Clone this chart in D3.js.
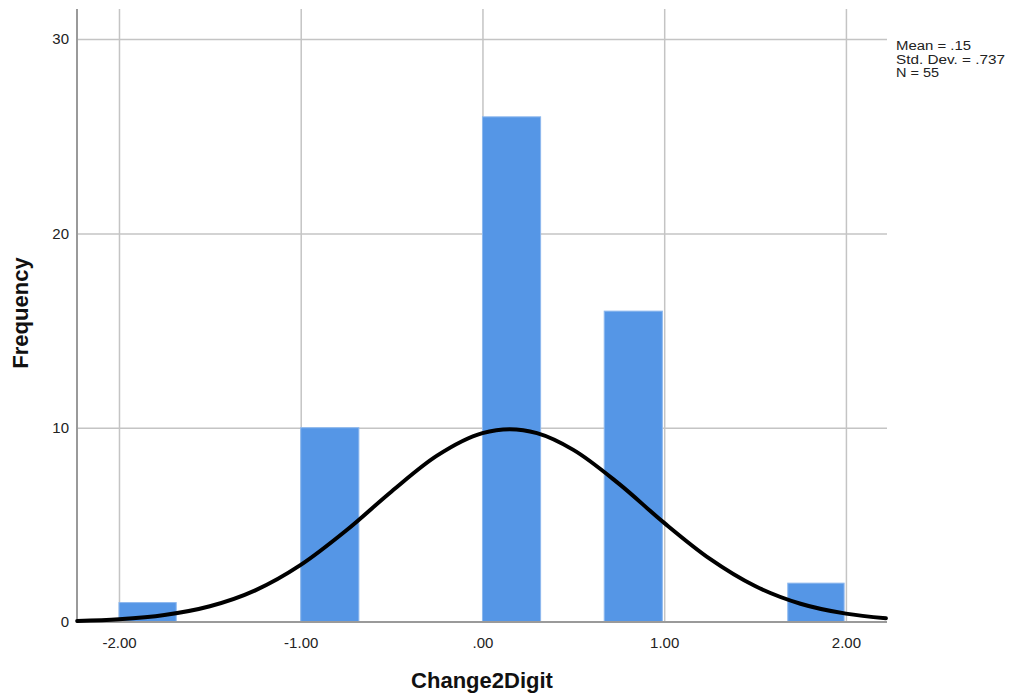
<!DOCTYPE html>
<html><head><meta charset="utf-8">
<script src="https://cdn.jsdelivr.net/npm/d3@7"></script>
<style>
html,body{margin:0;padding:0;background:#fff;}
svg{display:block;font-family:"Liberation Sans",Arial,sans-serif;}
</style></head>
<body><svg id="c" width="1011" height="697"></svg>
<script>
// Histogram bins
const binStart = [-2.0, -1.0, 0.0, 0.67, 1.68];
const binEnd   = [-1.685, -0.68, 0.32, 0.99, 1.99];
const counts   = [1, 10, 26, 16, 2];
// Normal curve points
const curveX = [-2.23, -2.0, -1.75, -1.5, -1.25, -1.0, -0.75, -0.5, -0.25, 0.0, 0.15, 0.3, 0.5, 0.75, 1.0, 1.25, 1.5, 1.75, 2.0, 2.22];
const curveY = [0.05, 0.14, 0.36, 0.81, 1.63, 2.94, 4.71, 6.72, 8.56, 9.72, 9.92, 9.72, 8.86, 7.12, 5.10, 3.26, 1.85, 0.94, 0.43, 0.19];
const xTicks = [-2, -1, 0, 1, 2];
const xTickLabels = ["-2.00", "-1.00", ".00", "1.00", "2.00"];
const yTicks = [0, 10, 20, 30];
const statsLines = ["Mean = .15", "Std. Dev. = .737", "N = 55"];
const statsWidths = [75, 109, 43];
const xTitle = "Change2Digit";
const yTitle = "Frequency";

const L = 77, R = 887, T = 9, B = 622;
const svg = d3.select("#c");
const x = d3.scaleLinear().domain([-2.231, 2.226]).range([L, R]);
const y = d3.scaleLinear().domain([0, 31.55]).range([B, T]);

// grid
const gx = svg.append("g").attr("transform", `translate(0,${B})`)
  .call(d3.axisBottom(x).tickValues(xTicks).tickSize(-(B - T)).tickFormat(""));
gx.select(".domain").remove();
gx.selectAll("line").attr("stroke", "#c4c4c4").attr("stroke-width", 1.5);
const gy = svg.append("g").attr("transform", `translate(${L},0)`)
  .call(d3.axisLeft(y).tickValues(yTicks.filter(d => d > 0)).tickSize(-(R - L)).tickFormat(""));
gy.select(".domain").remove();
gy.selectAll("line").attr("stroke", "#c4c4c4").attr("stroke-width", 1.5);

// bars
svg.append("g").selectAll("rect").data(counts).join("rect")
  .attr("x", (d, i) => x(binStart[i]))
  .attr("width", (d, i) => x(binEnd[i]) - x(binStart[i]))
  .attr("y", d => y(d))
  .attr("height", d => y(0) - y(d))
  .attr("fill", "#5596e6")
  .attr("stroke", "#8db8ee").attr("stroke-width", 1);

// axis lines
svg.append("line").attr("x1", L).attr("x2", L).attr("y1", T).attr("y2", B + 1)
  .attr("stroke", "#9a9a9a").attr("stroke-width", 2);
svg.append("line").attr("x1", L).attr("x2", R).attr("y1", B).attr("y2", B)
  .attr("stroke", "#9a9a9a").attr("stroke-width", 2);

// curve
svg.append("path").datum(curveX.map((d, i) => [d, curveY[i]]))
  .attr("fill", "none").attr("stroke", "#000").attr("stroke-width", 4)
  .attr("stroke-linecap", "round")
  .attr("d", d3.line().x(d => x(d[0])).y(d => y(d[1])).curve(d3.curveMonotoneX));

// tick labels
const ax = svg.append("g").attr("transform", `translate(0,${B})`)
  .call(d3.axisBottom(x).tickValues(xTicks).tickSize(0).tickPadding(15)
    .tickFormat((d, i) => xTickLabels[i]));
ax.select(".domain").remove();
ax.selectAll("text").attr("font-size", 15).attr("fill", "#222").attr("font-family", "Liberation Sans, Arial, sans-serif");
const ay = svg.append("g").attr("transform", `translate(${L},0)`)
  .call(d3.axisLeft(y).tickValues(yTicks).tickSize(0).tickPadding(8));
ay.select(".domain").remove();
ay.selectAll("text").attr("font-size", 15).attr("fill", "#222").attr("font-family", "Liberation Sans, Arial, sans-serif");

// titles
svg.append("text").attr("x", 482).attr("y", 688).attr("text-anchor", "middle")
  .attr("font-size", 22).attr("font-weight", "bold").attr("fill", "#111").text(xTitle);
svg.append("text").attr("transform", "translate(28,313) rotate(-90)").attr("text-anchor", "middle")
  .attr("font-size", 22).attr("font-weight", "bold").attr("fill", "#111").text(yTitle);

// stats
svg.append("g").selectAll("text").data(statsLines).join("text")
  .attr("x", 896).attr("y", (d, i) => 50 + i * 13.5)
  .attr("font-size", 12.5).attr("fill", "#222")
  .attr("textLength", (d, i) => statsWidths[i]).attr("lengthAdjust", "spacingAndGlyphs")
  .text(d => d);
</script></body></html>
